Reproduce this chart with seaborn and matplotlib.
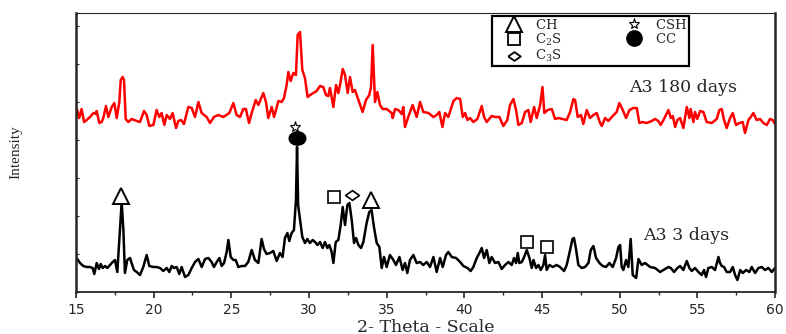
import numpy as np
import pandas as pd
import matplotlib
matplotlib.use("Agg")
import matplotlib.pyplot as plt
from matplotlib.lines import Line2D
import seaborn as sns

# ---------------- data ----------------
theta_180 = [15.04, 15.21, 15.36, 15.52, 15.69, 15.90, 16.12, 16.29, 16.33, 16.50, 16.65, 16.76, 16.93,
             17.08, 17.30, 17.47, 17.62, 17.79, 17.88, 18.00, 18.09, 18.20, 18.37, 18.58, 18.91, 19.12,
             19.38, 19.55, 19.72, 19.98, 20.19, 20.36, 20.51, 20.69, 20.84, 21.05, 21.22, 21.44, 21.59,
             21.76, 21.95, 22.23, 22.45, 22.66, 22.88, 23.09, 23.41, 23.63, 23.88, 24.16, 24.48, 24.87,
             25.13, 25.34, 25.56, 25.77, 25.94, 26.14, 26.31, 26.57, 26.74, 27.06, 27.23, 27.38, 27.60,
             27.75, 28.03, 28.24, 28.39, 28.56, 28.67, 28.82, 28.99, 29.16, 29.27, 29.42, 29.57, 29.74,
             29.91, 30.17, 30.49, 30.71, 30.92, 31.09, 31.24, 31.35, 31.57, 31.74, 31.89, 32.00, 32.17,
             32.32, 32.49, 32.64, 32.81, 32.96, 33.18, 33.45, 33.67, 33.88, 33.99, 34.10, 34.25, 34.40,
             34.57, 34.74, 35.00, 35.32, 35.39, 35.54, 35.75, 35.97, 36.07, 36.18, 36.39, 36.67, 36.93,
             37.15, 37.36, 37.69, 38.01, 38.22, 38.39, 38.59, 38.76, 38.97, 39.30, 39.51, 39.73, 39.90,
             40.05, 40.20, 40.37, 40.58, 40.84, 41.12, 41.27, 41.44, 41.76, 41.98, 42.26, 42.51, 42.77,
             42.94, 43.16, 43.33, 43.48, 43.70, 43.91, 44.12, 44.27, 44.49, 44.66, 44.88, 45.03, 45.15,
             45.37, 45.63, 45.84, 46.06, 46.33, 46.59, 46.81, 47.02, 47.13, 47.30, 47.51, 47.66, 47.88,
             48.09, 48.31, 48.52, 48.74, 48.85, 49.06, 49.27, 49.55, 49.81, 49.98, 50.20, 50.41, 50.63,
             50.88, 51.10, 51.27, 51.48, 51.74, 52.06, 52.28, 52.49, 52.64, 52.82, 53.14, 53.29, 53.42,
             53.57, 53.72, 53.89, 54.10, 54.32, 54.49, 54.57, 54.75, 54.85, 55.00, 55.18, 55.39, 55.60,
             55.93, 56.25, 56.42, 56.57, 56.72, 56.89, 57.11, 57.28, 57.49, 57.71, 57.92, 58.07, 58.29,
             58.44, 58.61, 58.82, 59.04, 59.25, 59.47, 59.68, 59.85, 60.00]
int_180 = [184, 174, 183, 170, 172, 175, 179, 178, 181, 169, 170, 174, 186,
           175, 185, 189, 174, 190, 212, 215, 212, 173, 170, 173, 171, 170,
           181, 177, 166, 167, 182, 175, 179, 167, 177, 173, 179, 164, 171,
           172, 168, 185, 184, 175, 190, 179, 175, 169, 175, 177, 175, 179,
           189, 177, 175, 183, 183, 169, 179, 192, 187, 199, 190, 174, 185,
           175, 191, 190, 194, 207, 220, 211, 219, 217, 257, 260, 222, 214,
           195, 198, 201, 206, 205, 197, 196, 204, 185, 207, 199, 207, 223,
           217, 199, 215, 200, 202, 192, 180, 192, 197, 205, 247, 190, 200,
           187, 183, 183, 179, 174, 183, 182, 178, 185, 165, 175, 187, 175,
           190, 180, 179, 175, 177, 180, 165, 179, 175, 191, 194, 193, 175,
           179, 172, 174, 170, 173, 186, 175, 170, 176, 175, 175, 166, 172,
           187, 193, 182, 167, 169, 180, 182, 170, 185, 174, 187, 205, 179,
           182, 183, 173, 174, 173, 172, 180, 193, 192, 175, 177, 168, 182,
           174, 177, 179, 169, 166, 174, 171, 176, 180, 189, 182, 174, 182,
           184, 184, 169, 170, 169, 171, 173, 171, 167, 172, 182, 174, 176,
           165, 172, 174, 164, 185, 174, 183, 170, 180, 173, 181, 180, 170,
           169, 173, 182, 183, 172, 164, 174, 179, 167, 169, 170, 159, 172,
           175, 179, 172, 173, 169, 167, 173, 172, 168]

theta_3 = [15.04, 15.26, 15.47, 15.69, 15.90, 16.07, 16.18, 16.33, 16.48, 16.59, 16.72, 16.87, 17.02,
           17.19, 17.36, 17.51, 17.66, 17.83, 17.94, 18.05, 18.15, 18.30, 18.48, 18.58, 18.73, 18.91,
           19.12, 19.33, 19.55, 19.72, 19.98, 20.19, 20.41, 20.62, 20.84, 21.01, 21.16, 21.31, 21.48,
           21.65, 21.80, 22.02, 22.23, 22.45, 22.66, 22.88, 23.09, 23.31, 23.52, 23.73, 23.88, 24.06,
           24.23, 24.38, 24.53, 24.70, 24.81, 24.96, 25.13, 25.28, 25.45, 25.67, 25.88, 26.09, 26.31,
           26.52, 26.74, 26.95, 27.10, 27.27, 27.49, 27.70, 27.92, 28.13, 28.30, 28.45, 28.61, 28.73,
           28.88, 29.03, 29.16, 29.23, 29.30, 29.57, 29.74, 29.89, 30.06, 30.24, 30.39, 30.54, 30.71,
           30.88, 31.03, 31.18, 31.31, 31.46, 31.57, 31.72, 31.89, 32.04, 32.17, 32.32, 32.47, 32.60,
           32.75, 32.90, 33.03, 33.18, 33.35, 33.50, 33.71, 33.88, 34.03, 34.18, 34.36, 34.53, 34.68,
           34.83, 35.00, 35.21, 35.43, 35.60, 35.82, 36.03, 36.18, 36.33, 36.50, 36.72, 36.93, 37.15,
           37.36, 37.58, 37.79, 38.01, 38.22, 38.44, 38.61, 38.82, 38.97, 39.19, 39.47, 39.73, 39.94,
           40.20, 40.41, 40.58, 40.80, 40.97, 41.12, 41.27, 41.44, 41.61, 41.76, 41.98, 42.19, 42.41,
           42.62, 42.84, 43.05, 43.20, 43.33, 43.44, 43.54, 43.70, 43.85, 44.02, 44.19, 44.34, 44.45,
           44.62, 44.77, 44.92, 45.09, 45.20, 45.30, 45.48, 45.69, 45.95, 46.16, 46.42, 46.59, 46.81,
           46.96, 47.06, 47.19, 47.34, 47.56, 47.77, 47.99, 48.14, 48.31, 48.48, 48.70, 48.91, 49.12,
           49.34, 49.55, 49.77, 49.92, 50.03, 50.13, 50.24, 50.41, 50.56, 50.71, 50.84, 51.06, 51.21,
           51.42, 51.63, 51.96, 52.28, 52.60, 52.92, 53.14, 53.29, 53.50, 53.72, 53.89, 54.10, 54.32,
           54.49, 54.64, 54.85, 55.07, 55.28, 55.43, 55.56, 55.71, 55.93, 56.14, 56.36, 56.46, 56.57,
           56.72, 56.89, 57.11, 57.28, 57.43, 57.58, 57.76, 57.93, 58.14, 58.35, 58.50, 58.72, 58.93,
           59.15, 59.36, 59.58, 59.79, 60.00]
int_3 = [34, 29, 26, 25, 25, 24, 18, 29, 23, 28, 24, 26, 24,
         27, 30, 32, 20, 62, 90, 62, 19, 32, 34, 29, 22, 20,
         17, 25, 37, 26, 25, 25, 24, 21, 24, 20, 26, 24, 25,
         18, 25, 15, 17, 24, 30, 33, 25, 33, 34, 30, 25, 30,
         34, 26, 29, 40, 52, 35, 32, 32, 25, 26, 26, 30, 42,
         32, 29, 53, 43, 38, 39, 41, 31, 39, 35, 54, 59, 51,
         59, 62, 92, 145, 87, 55, 49, 53, 49, 52, 50, 47, 50,
         44, 50, 44, 47, 40, 29, 50, 52, 67, 85, 67, 87, 89,
         72, 49, 54, 47, 44, 50, 69, 80, 82, 65, 49, 45, 24,
         35, 25, 37, 32, 27, 35, 22, 29, 19, 32, 37, 29, 30,
         27, 30, 25, 35, 20, 34, 25, 37, 40, 35, 34, 30, 26,
         24, 21, 25, 34, 39, 44, 34, 42, 29, 35, 29, 30, 23,
         27, 30, 27, 34, 29, 39, 29, 30, 35, 42, 34, 24, 32,
         24, 27, 22, 27, 37, 22, 27, 25, 27, 25, 21, 27, 42,
         53, 54, 43, 27, 24, 25, 29, 42, 46, 34, 29, 26, 25,
         29, 25, 34, 45, 47, 25, 22, 32, 25, 53, 17, 14, 33,
         27, 29, 25, 24, 20, 23, 25, 24, 20, 24, 26, 22, 31,
         24, 21, 24, 20, 17, 22, 15, 24, 25, 22, 35, 29, 26,
         25, 20, 20, 25, 17, 12, 22, 19, 22, 20, 25, 19, 24,
         25, 22, 24, 20, 24]

sample_names = ["A3 180 days", "A3 3 days"]

# phase annotations: phase, 2-theta, height
ann_phase = ["CH", "CH", "CSH", "CC", "C2S", "C3S", "C2S", "C2S"]
ann_theta = [17.9, 34.0, 29.1, 29.2, 31.6, 32.8, 44.05, 45.3]
ann_height = [96, 92, 165, 154, 95, 97, 50, 45]

legend_phases = ["CH", "C2S", "C3S", "CSH", "CC"]
legend_labels = [r"$\mathrm{CH}$", r"$\mathrm{C_2S}$", r"$\mathrm{C_3S}$",
                 r"$\mathrm{CSH}$", r"$\mathrm{CC}$"]

# ---------------- style ----------------
sns.set_style("ticks")
plt.rcParams["font.family"] = ["DejaVu Serif"]
plt.rcParams["mathtext.fontset"] = "dejavuserif"

df = pd.concat([
    pd.DataFrame({"theta": theta_180, "intensity": int_180, "sample": sample_names[0]}),
    pd.DataFrame({"theta": theta_3, "intensity": int_3, "sample": sample_names[1]}),
])

fig = plt.figure(figsize=(7.86, 3.34), dpi=100)
ax = fig.add_axes([76 / 786, 1 - 292 / 334, 699 / 786, 279 / 334])

sns.lineplot(data=df, x="theta", y="intensity", hue="sample",
             palette={sample_names[0]: "#ff0000", sample_names[1]: "black"},
             estimator=None, sort=False, linewidth=1.8, legend=False, ax=ax)

ax.set_xlim(15, 60)
ax.set_ylim(0, 279)
ax.set_xticks(np.arange(15, 61, 5))
ax.set_xticks(np.arange(15, 60.1, 2.5), minor=True)
ax.set_yticks(np.arange(0, 279, 38))
ax.set_yticklabels([])
ax.tick_params(axis="x", which="major", direction="out", length=4, width=1.2,
               labelsize=10, pad=4)
ax.tick_params(axis="x", which="minor", direction="out", length=2.5, width=1.0)
ax.tick_params(axis="y", direction="in", length=2, width=0.8, left=True)
for lab in ax.get_xticklabels():
    lab.set_fontfamily("DejaVu Sans")
ax.spines["left"].set_linewidth(1.8)
ax.spines["right"].set_linewidth(1.8)
ax.spines["bottom"].set_linewidth(1.3)
ax.spines["top"].set_linewidth(0.8)
for s in ax.spines.values():
    s.set_visible(True)

ax.set_xlabel("2- Theta - Scale", fontsize=12.5)
ax.xaxis.set_label_coords(0.5, -0.095)
ax.set_ylabel("Intensity", fontsize=11, family="Liberation Serif")
ax.yaxis.set_label_coords(-0.077, 0.5)

# phase markers
diamond = [(-1, 0), (0, 0.7), (1, 0), (0, -0.7), (-1, 0)]
ellipse = [(np.cos(t), 0.8 * np.sin(t)) for t in np.linspace(0, 2 * np.pi, 40)]
mstyle = {
    "CH": dict(marker="^", ms=11, mfc="white", mec="black", mew=1.4),
    "C2S": dict(marker="s", ms=9, mfc="white", mec="black", mew=1.2),
    "C3S": dict(marker=diamond, ms=10, mfc="white", mec="black", mew=1.2),
    "CSH": dict(marker="*", ms=8, mfc="white", mec="black", mew=0.8),
    "CC": dict(marker=ellipse, ms=12, mfc="black", mec="black", mew=1),
}
for ph, tx, hy in zip(ann_phase, ann_theta, ann_height):
    ax.plot([tx], [hy], linestyle="none", zorder=5, **mstyle[ph])

# sample labels
ax.text(50.6, 205, sample_names[0], fontsize=12.5, ha="left", va="center")
ax.text(51.5, 57, sample_names[1], fontsize=12.5, ha="left", va="center")

# legend
leg_style = {
    "CH": dict(marker="^", ms=11, mfc="white", mec="black", mew=1.4),
    "C2S": dict(marker="s", ms=8, mfc="white", mec="black", mew=1.3),
    "C3S": dict(marker=diamond, ms=9, mfc="white", mec="black", mew=1.3),
    "CSH": dict(marker="*", ms=8, mfc="white", mec="black", mew=0.8),
    "CC": dict(marker="o", ms=11, mfc="black", mec="black"),
}
handles = [Line2D([], [], linestyle="none", **leg_style[p]) for p in legend_phases]
leg = ax.legend(handles, legend_labels, ncol=2, loc="upper left",
                bbox_to_anchor=(0.595, 0.989), borderaxespad=0, fontsize=9.5,
                frameon=True, fancybox=False, edgecolor="black", framealpha=1,
                labelspacing=0.0, handletextpad=0.1, columnspacing=4.0,
                borderpad=0.15, handlelength=3.0)
leg.get_frame().set_linewidth(1.6)

fig.savefig("out.png", dpi=100)
